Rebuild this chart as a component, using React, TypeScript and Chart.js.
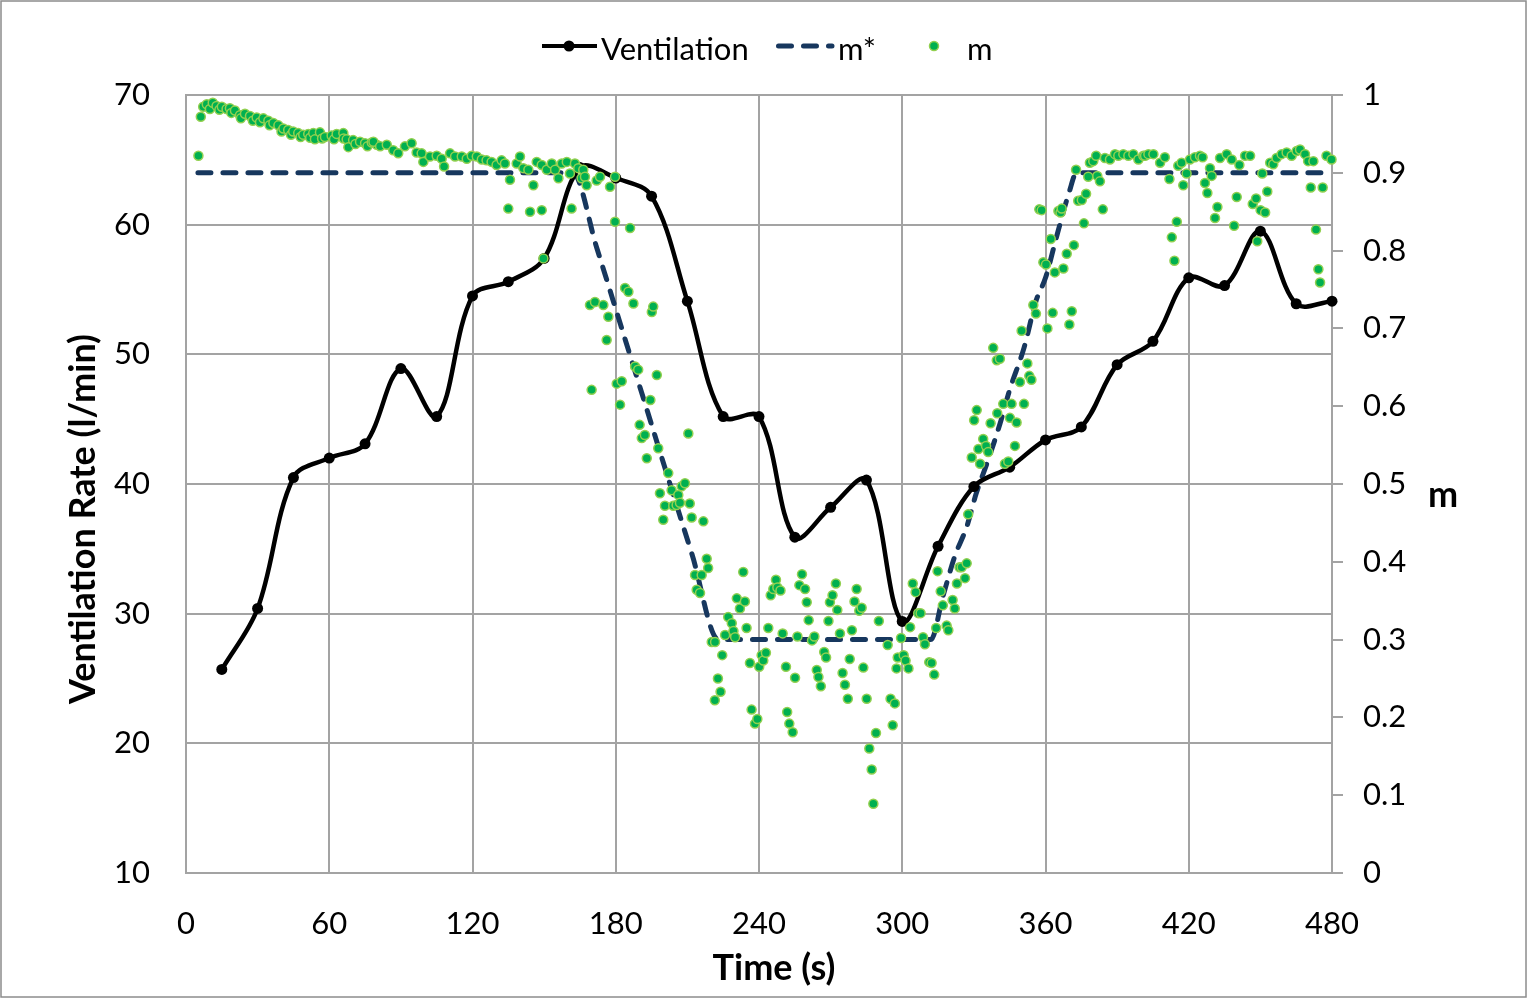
import React, { useEffect, useRef } from 'react';
import { Chart, registerables } from 'chart.js';

Chart.register(...registerables);

const FONT = 'Lato, "Open Sans", sans-serif';
const GRID = '#a3a3a3';
const NAVY = '#17375e';
const GREEN = '#00b050';
const LIGHT_GREEN = '#92d050';

// x axis (s) and the two y axes
const xTicks = [0, 60, 120, 180, 240, 300, 360, 420, 480];
const ventTicks = [10, 20, 30, 40, 50, 60, 70];
const mTicks = [0, 0.1, 0.2, 0.3, 0.4, 0.5, 0.6, 0.7, 0.8, 0.9, 1];

// Ventilation (l/min), one sample every 15 s
const ventTimes = [15, 30, 45, 60, 75, 90, 105, 120, 135, 150, 165, 180, 195, 210, 225, 240,
  255, 270, 285, 300, 315, 330, 345, 360, 375, 390, 405, 420, 435, 450, 465, 480];
const ventilation = [25.7, 30.4, 40.5, 42.0, 43.1, 48.9, 45.2, 54.5, 55.6, 57.4, 64.4, 63.6, 62.2, 54.1, 45.2, 45.2,
  35.9, 38.2, 40.3, 29.4, 35.2, 39.8, 41.3, 43.4, 44.4, 49.2, 51.0, 55.9, 55.3, 59.5, 53.9, 54.1];

// m* (target)
const mStarTimes = [5, 40, 80, 120, 162, 172, 182, 192, 202, 212, 223, 250, 280, 312,
  317, 322, 327, 331, 336, 341, 345, 351, 356, 360, 365, 370, 373, 400, 440, 480];
const mStarValues = [0.9, 0.9, 0.9, 0.9, 0.9, 0.804, 0.705, 0.606, 0.507, 0.409, 0.3, 0.3, 0.3, 0.3,
  0.355, 0.407, 0.445, 0.488, 0.531, 0.578, 0.621, 0.675, 0.735, 0.765, 0.822, 0.876, 0.9, 0.9, 0.9, 0.9];

// m (measured), [time, m]
const mStart: [number, number][] = [
  [5.2, 0.922], [6.2, 0.972], [7.2, 0.985], [8.7, 0.988], [10, 0.982], [11.2, 0.99], [12.8, 0.986], [14, 0.981],
  [15, 0.985], [17, 0.982], [18.4, 0.983], [19, 0.977], [20.5, 0.98], [22.6, 0.974], [23, 0.97], [24.7, 0.976],
  [26.8, 0.973], [28, 0.967], [29.6, 0.971], [31, 0.965], [32.4, 0.97], [34.5, 0.967], [35, 0.961], [36.6, 0.964],
  [38.7, 0.961], [40, 0.953], [40.8, 0.957], [42.8, 0.955], [44, 0.949], [44.9, 0.953], [47, 0.951], [48, 0.946],
  [49.1, 0.949], [51.2, 0.95], [52, 0.945], [53.3, 0.951], [54, 0.943], [56.1, 0.952], [57, 0.944], [58.2, 0.946],
  [61, 0.948], [62, 0.943], [63.1, 0.95], [65.9, 0.951], [66, 0.944], [67.3, 0.943], [68, 0.933], [70, 0.942],
  [71, 0.937], [72.9, 0.94], [75, 0.938], [76, 0.934], [77.8, 0.939], [79.9, 0.936],
];
const mPlateau: [number, number][] = [
  [78.5, 0.94], [81.3, 0.934], [84.1, 0.936], [86.8, 0.929], [88.9, 0.925], [91.7, 0.934], [94.5, 0.938], [96.6, 0.926],
  [98.7, 0.925], [99.4, 0.914], [102.2, 0.921], [105, 0.922], [107.1, 0.918], [108.1, 0.908], [110.6, 0.925],
  [112.7, 0.921], [115.5, 0.921], [117.6, 0.918], [119.7, 0.922], [121.8, 0.921], [123.9, 0.917], [125.9, 0.916],
  [128, 0.914], [130.1, 0.91], [132.2, 0.916], [133.6, 0.912], [135, 0.854], [135.7, 0.891], [138.5, 0.912],
  [139.9, 0.921], [141.3, 0.906], [143.4, 0.904], [144.1, 0.85], [145.5, 0.884], [146.9, 0.914], [149, 0.91],
  [149, 0.852], [149.7, 0.79], [151.1, 0.904], [153.2, 0.912], [154.6, 0.904], [156, 0.893], [157.4, 0.912],
  [159.5, 0.914], [160.8, 0.899], [161.5, 0.854], [162.9, 0.912], [164.3, 0.906], [165.7, 0.893], [166.4, 0.904],
];
const mDrop: [number, number][] = [
  [167.1, 0.895], [167.8, 0.884], [169.2, 0.73], [169.9, 0.621], [171.3, 0.734], [172, 0.89], [173.4, 0.895],
  [174.8, 0.73], [176.2, 0.685], [176.9, 0.715], [177.6, 0.882], [179.7, 0.895], [179.7, 0.837], [180.4, 0.629],
  [181.8, 0.602], [182.5, 0.632], [183.9, 0.752], [185.3, 0.747], [186, 0.829], [187.4, 0.732], [188.1, 0.651],
  [189.4, 0.647], [190, 0.576], [190.9, 0.559], [192.2, 0.563], [193, 0.533], [194.5, 0.608], [195.1, 0.721],
  [195.7, 0.728], [197.2, 0.64], [197.8, 0.546], [198.5, 0.488], [199.9, 0.454], [200.6, 0.472], [202, 0.514],
  [203.4, 0.492], [204.1, 0.472], [205.5, 0.473], [206.2, 0.486], [206.9, 0.476], [207.6, 0.497], [209, 0.501],
  [210.4, 0.565], [211, 0.475], [211.8, 0.457], [213.2, 0.383], [213.9, 0.364], [215.3, 0.36], [216, 0.383],
  [216.7, 0.452], [218.1, 0.404], [218.7, 0.392], [220.2, 0.297], [221.5, 0.222], [221.6, 0.297],
];
const mLow: [number, number][] = [
  [222.8, 0.25], [223.9, 0.233], [224.6, 0.28], [225.8, 0.306], [227.1, 0.329], [228.6, 0.321], [229.3, 0.311],
  [230, 0.303], [230.7, 0.353], [232, 0.34], [233.4, 0.387], [234.1, 0.349], [234.8, 0.315], [236.2, 0.27],
  [236.9, 0.21], [238.3, 0.192], [239.3, 0.198], [240.1, 0.265], [241.1, 0.28], [241.8, 0.273], [242.9, 0.283],
  [243.9, 0.315], [244.9, 0.357], [246, 0.365], [247.1, 0.377], [247.7, 0.367], [249, 0.363], [249.9, 0.308],
  [251.3, 0.265], [251.8, 0.207], [252.7, 0.192], [254.1, 0.181], [255.1, 0.251], [256.1, 0.304], [256.9, 0.37],
  [258, 0.384], [259.3, 0.365], [260, 0.348], [260.8, 0.325], [262.2, 0.299], [263.2, 0.304], [264.2, 0.261],
  [264.9, 0.252], [265.9, 0.24], [267.3, 0.284], [268.1, 0.277], [269.1, 0.324], [269.7, 0.348], [270.8, 0.357],
  [272.2, 0.372], [272.8, 0.338], [273.9, 0.308], [275, 0.257], [276, 0.242], [277.2, 0.224], [278, 0.275],
  [278.9, 0.312], [280, 0.349], [280.9, 0.365], [282, 0.337], [283, 0.341], [283.7, 0.264], [285.1, 0.224],
  [286.2, 0.16], [287.2, 0.133], [287.9, 0.089], [289, 0.18], [290.2, 0.324], [293.9, 0.293], [295.1, 0.224],
  [296, 0.19], [296.9, 0.218], [297.6, 0.263], [298.1, 0.277], [299.5, 0.302], [300.6, 0.28], [301.4, 0.273],
  [302.6, 0.263], [303.3, 0.316], [304.4, 0.372], [305.6, 0.361], [306.7, 0.334], [307.7, 0.334], [308.7, 0.303],
  [309.5, 0.294], [311.3, 0.271], [312.3, 0.27], [313.4, 0.255], [314.2, 0.315], [314.8, 0.388], [316.1, 0.362],
  [317, 0.344], [318.6, 0.318], [319.3, 0.312],
];
const mRise: [number, number][] = [
  [321.1, 0.351], [322, 0.34], [322.9, 0.372], [324, 0.393], [324.9, 0.393], [326.3, 0.379], [327, 0.398],
  [327.6, 0.461], [329.1, 0.534], [330.1, 0.582], [331.2, 0.595], [331.9, 0.545], [332.6, 0.526], [333.9, 0.558],
  [335.1, 0.549], [336, 0.541], [337, 0.578], [338.1, 0.675], [339.6, 0.659], [339.8, 0.591], [340.9, 0.661],
  [342.3, 0.603], [343, 0.526], [344.4, 0.529], [345.1, 0.585], [345.8, 0.603], [347.2, 0.549], [347.9, 0.579],
  [349.3, 0.631], [350, 0.697], [351, 0.603], [352.4, 0.655], [353.2, 0.639], [354.1, 0.634], [354.9, 0.73],
  [356, 0.719], [357.4, 0.853], [358.4, 0.852], [359.1, 0.785], [360.2, 0.782], [360.8, 0.7], [362.2, 0.815],
  [363, 0.72], [363.9, 0.772], [365.4, 0.851], [366.3, 0.849], [366.8, 0.854], [367.5, 0.777], [368.9, 0.796],
  [370, 0.705], [371, 0.722], [371.9, 0.807], [372.8, 0.904], [373.7, 0.864], [375.2, 0.865], [376.1, 0.835],
  [377, 0.873], [377.9, 0.895],
];
const mEnd: [number, number][] = [
  [378.6, 0.913], [380, 0.915], [381.2, 0.922], [381.7, 0.896], [382.8, 0.889], [384, 0.853], [384.9, 0.919],
  [387, 0.917], [389.1, 0.924], [390.5, 0.922], [392.6, 0.924], [394.7, 0.922], [396.8, 0.924], [398.9, 0.917],
  [401, 0.922], [401.7, 0.922], [403.1, 0.924], [405.2, 0.924], [408, 0.913], [410, 0.92], [411.9, 0.892],
  [412.9, 0.817], [414, 0.787], [415, 0.837], [415.6, 0.909], [417, 0.913], [417.7, 0.884], [419.1, 0.899],
  [420.5, 0.917], [422.6, 0.92], [424.7, 0.922], [425.8, 0.92], [426.8, 0.887], [427.8, 0.874], [428.9, 0.906],
  [429.6, 0.896], [431, 0.842], [432, 0.856], [433.1, 0.919], [435.9, 0.924], [438, 0.917], [439, 0.832],
  [440.1, 0.869], [441.2, 0.91], [443.6, 0.922], [445.7, 0.922], [446.8, 0.86], [448.2, 0.867], [448.7, 0.812],
  [450.1, 0.852], [450.8, 0.899], [452, 0.849], [452.9, 0.876], [454.1, 0.913], [455.4, 0.911], [456.8, 0.919],
  [458.9, 0.924], [461, 0.926], [463.1, 0.922], [465.2, 0.928], [466.6, 0.93], [468.7, 0.924], [470, 0.915],
  [471.1, 0.881], [472.2, 0.915], [473.3, 0.827], [474.3, 0.776], [475, 0.759], [476.1, 0.881], [477.7, 0.922],
  [479.8, 0.917],
];

const setTicks = (values: number[]) => (scale: any) => {
  scale.ticks = values.map((value) => ({ value }));
};

// legend + axis titles drawn by hand so they sit where Excel put them
const chartDecor = {
  id: 'chartDecor',
  beforeDraw(chart: Chart) {
    const { ctx, width, height } = chart;
    ctx.save();
    ctx.fillStyle = '#ffffff';
    ctx.fillRect(0, 0, width, height);
    ctx.restore();
  },
  afterDraw(chart: Chart) {
    const { ctx, width, height } = chart;
    ctx.save();

    ctx.strokeStyle = '#8c8c8c';
    ctx.lineWidth = 1.5;
    ctx.strokeRect(1, 1, width - 2, height - 2);

    // legend
    ctx.font = `31px ${FONT}`;
    ctx.textAlign = 'left';
    ctx.textBaseline = 'alphabetic';

    ctx.strokeStyle = '#000';
    ctx.fillStyle = '#000';
    ctx.lineWidth = 4;
    ctx.beginPath();
    ctx.moveTo(542, 46);
    ctx.lineTo(597, 46);
    ctx.stroke();
    ctx.beginPath();
    ctx.arc(569, 46, 5.5, 0, Math.PI * 2);
    ctx.fill();
    ctx.fillText('Ventilation', 601, 60);

    ctx.strokeStyle = NAVY;
    ctx.lineWidth = 5;
    ctx.lineCap = 'round';
    ctx.setLineDash([13, 12]);
    ctx.beginPath();
    ctx.moveTo(778.5, 46);
    ctx.lineTo(832, 46);
    ctx.stroke();
    ctx.setLineDash([]);
    ctx.lineCap = 'butt';
    ctx.fillText('m*', 838, 60);

    ctx.beginPath();
    ctx.arc(934, 46, 4.5, 0, Math.PI * 2);
    ctx.fillStyle = GREEN;
    ctx.fill();
    ctx.lineWidth = 1.5;
    ctx.strokeStyle = LIGHT_GREEN;
    ctx.stroke();
    ctx.fillStyle = '#000';
    ctx.fillText('m', 967, 60);

    // axis titles
    ctx.font = `bold 36px ${FONT}`;
    ctx.textAlign = 'center';
    ctx.fillText('Time (s)', 774, 980);
    ctx.fillText('m', 1443, 507);
    ctx.translate(95, 519);
    ctx.rotate(-Math.PI / 2);
    ctx.fillText('Ventilation Rate (l/min)', 0, 0);

    ctx.restore();
  },
};

const App: React.FC = () => {
  const canvasRef = useRef<HTMLCanvasElement | null>(null);

  useEffect(() => {
    if (!canvasRef.current) return;
    const ctx = canvasRef.current.getContext('2d');
    if (!ctx) return;

    const mPoints = [...mStart, ...mPlateau, ...mDrop, ...mLow, ...mRise, ...mEnd].map(([x, y]) => ({ x, y }));
    const ventPoints = ventTimes.map((x, i) => ({ x, y: ventilation[i] }));
    const mStarPoints = mStarTimes.map((x, i) => ({ x, y: mStarValues[i] }));

    const tickFont = { family: FONT, size: 31 };

    const chart = new Chart(ctx, {
      type: 'line',
      data: {
        datasets: [
          {
            label: 'm',
            data: mPoints,
            yAxisID: 'y1',
            showLine: false,
            pointRadius: 4.5,
            pointBorderWidth: 1.5,
            pointBackgroundColor: GREEN,
            pointBorderColor: LIGHT_GREEN,
            order: 0,
            clip: 10,
          },
          {
            label: 'Ventilation',
            data: ventPoints,
            yAxisID: 'y',
            borderColor: '#000',
            borderWidth: 4.5,
            tension: 0.35,
            pointRadius: 5.5,
            pointBackgroundColor: '#000',
            pointBorderColor: '#000',
            pointBorderWidth: 0,
            order: 1,
            clip: 10,
          },
          {
            label: 'm*',
            data: mStarPoints,
            yAxisID: 'y1',
            borderColor: NAVY,
            borderWidth: 5,
            borderDash: [13, 12],
            borderCapStyle: 'round',
            cubicInterpolationMode: 'monotone',
            pointRadius: 0,
            order: 2,
            clip: 10,
          },
        ],
      },
      options: {
        responsive: false,
        animation: false,
        events: [],
        layout: { padding: { top: 95 } },
        plugins: {
          legend: { display: false },
          tooltip: { enabled: false },
        },
        scales: {
          x: {
            type: 'linear',
            min: 0,
            max: 480,
            afterBuildTicks: setTicks(xTicks),
            afterFit: (scale: any) => { scale.height = 125; },
            ticks: { font: tickFont, color: '#000', padding: 32, maxRotation: 0, autoSkip: false },
            grid: { color: GRID, lineWidth: 2, drawTicks: false },
            border: { color: GRID, width: 2 },
          },
          y: {
            position: 'left',
            min: 10,
            max: 70,
            afterBuildTicks: setTicks(ventTicks),
            afterFit: (scale: any) => { scale.width = 186; },
            ticks: { font: tickFont, color: '#000', padding: 36 },
            grid: { color: GRID, lineWidth: 2, drawTicks: false },
            border: { color: GRID, width: 2 },
          },
          y1: {
            position: 'right',
            min: 0,
            max: 1,
            afterBuildTicks: setTicks(mTicks),
            afterFit: (scale: any) => { scale.width = 195; },
            ticks: {
              font: tickFont,
              color: '#000',
              padding: 20,
              callback: (v: any) => String(Math.round(Number(v) * 10) / 10),
            },
            grid: { drawOnChartArea: false, color: GRID, lineWidth: 2, tickLength: 11 },
            border: { color: GRID, width: 2 },
          },
        },
      },
      plugins: [chartDecor],
    });

    return () => {
      chart.destroy();
    };
  }, []);

  return (
    <div style={{ position: 'absolute', left: 0, top: 0, width: 1527, height: 998 }}>
      <canvas ref={canvasRef} width={1527} height={998} />
    </div>
  );
};

export default App;
